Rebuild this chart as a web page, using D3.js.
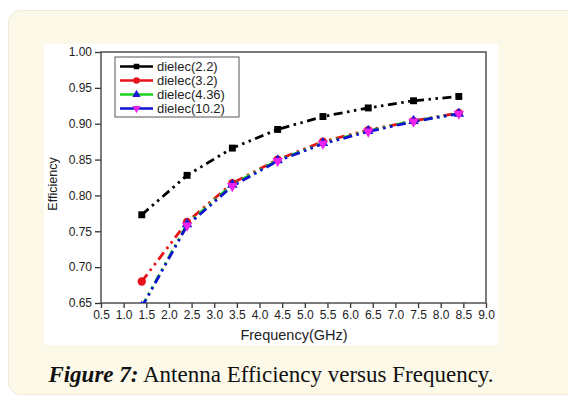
<!DOCTYPE html>
<html>
<head>
<meta charset="utf-8">
<script src="https://cdn.jsdelivr.net/npm/d3@7"></script>
<style>
  html, body { margin: 0; padding: 0; background: #fff; }
  svg { display: block; }
</style>
</head>
<body>
<svg id="chart" width="568" height="398"></svg>
<script>
// values
const freq = [1.4, 2.4, 3.4, 4.4, 5.4, 6.4, 7.4, 8.4];
const eff22 = [0.773, 0.828, 0.866, 0.892, 0.910, 0.922, 0.932, 0.938];
const eff32 = [0.680, 0.763, 0.817, 0.850, 0.875, 0.891, 0.904, 0.915];
const eff436 = [0.645, 0.760, 0.815, 0.849, 0.873, 0.890, 0.904, 0.914];
const eff102 = [0.644, 0.758, 0.813, 0.848, 0.872, 0.889, 0.903, 0.914];
const seriesNames = ['dielec(2.2)', 'dielec(3.2)', 'dielec(4.36)', 'dielec(10.2)'];
const xTicks = d3.range(0.5, 9.01, 0.5);
const yTicks = [0.65, 0.70, 0.75, 0.80, 0.85, 0.90, 0.95, 1.00];

const series = [
  { name: seriesNames[0], values: eff22, line: '#000', marker: '#000', shape: d3.symbolSquare },
  { name: seriesNames[1], values: eff32, line: '#e8121a', marker: '#e8121a', shape: d3.symbolCircle },
  { name: seriesNames[2], values: eff436, line: '#1bd11b', marker: '#1a1adf', shape: d3.symbolTriangle },
  { name: seriesNames[3], values: eff102, line: '#1010d0', marker: '#ee22ee', shape: 'down' }
];

const svg = d3.select('#chart');

// cream page panel
svg.append('rect')
  .attr('x', 8.5).attr('y', 10.5)
  .attr('width', 580).attr('height', 384)
  .attr('rx', 12)
  .attr('fill', '#fdf9e9')
  .attr('stroke', '#efeadb');

// white figure area
svg.append('rect')
  .attr('x', 44).attr('y', 44)
  .attr('width', 454).attr('height', 301)
  .attr('fill', '#fff');

const margin = { left: 101, top: 52, right: 486, bottom: 303 };

const x = d3.scaleLinear().domain([0.5, 9.0]).range([margin.left, margin.right]);
const y = d3.scaleLinear().domain([0.65, 1.00]).range([margin.bottom, margin.top]);

const font = '"Liberation Sans", Arial, sans-serif';

svg.append('clipPath').attr('id', 'plotclip')
  .append('rect')
  .attr('x', margin.left).attr('y', margin.top)
  .attr('width', margin.right - margin.left).attr('height', margin.bottom - margin.top);

// axes
const xAxis = svg.append('g')
  .attr('transform', 'translate(0,' + margin.bottom + ')')
  .call(d3.axisBottom(x).tickValues(xTicks).tickSize(5).tickPadding(2).tickFormat(d3.format('.1f')));
const yAxis = svg.append('g')
  .attr('transform', 'translate(' + margin.left + ',0)')
  .call(d3.axisLeft(y).tickValues(yTicks).tickSize(6).tickPadding(3).tickFormat(d3.format('.2f')));

[xAxis, yAxis].forEach(g => {
  g.select('.domain').remove();
  g.selectAll('line').attr('stroke', '#333').attr('stroke-width', 1.3);
  g.selectAll('text').attr('font-family', font).attr('font-size', 12).attr('fill', '#222');
});

// frame
svg.append('rect')
  .attr('x', margin.left).attr('y', margin.top)
  .attr('width', margin.right - margin.left).attr('height', margin.bottom - margin.top)
  .attr('fill', 'none').attr('stroke', '#444').attr('stroke-width', 1.4);

// axis titles
svg.append('text')
  .attr('x', 294).attr('y', 340)
  .attr('text-anchor', 'middle')
  .attr('font-family', font).attr('font-size', 14.5).attr('fill', '#222')
  .text('Frequency(GHz)');
svg.append('text')
  .attr('transform', 'translate(57,184) rotate(-90)')
  .attr('text-anchor', 'middle')
  .attr('font-family', font).attr('font-size', 12.5).attr('fill', '#222')
  .text('Efficiency');

function symbolPath(shape, size) {
  if (shape === 'down') {
    return d3.symbol().type(d3.symbolTriangle).size(size)();
  }
  return d3.symbol().type(shape).size(size)();
}

// lines + markers
const plot = svg.append('g').attr('clip-path', 'url(#plotclip)');
const line = d3.line().x((d, i) => x(freq[i])).y(d => y(d));

series.forEach(s => {
  plot.append('path')
    .datum(s.values)
    .attr('d', line)
    .attr('fill', 'none')
    .attr('stroke', s.line)
    .attr('stroke-width', 2.8)
    .attr('stroke-dasharray', '9,4.5,2.5,4.5,2.5,4.5');
});

series.forEach(s => {
  plot.selectAll(null)
    .data(s.values)
    .join('path')
    .attr('d', symbolPath(s.shape, s.shape === d3.symbolCircle ? 55 : 48))
    .attr('transform', (d, i) => 'translate(' + x(freq[i]) + ',' + y(d) + ')' + (s.shape === 'down' ? ' rotate(180)' : ''))
    .attr('fill', s.marker);
});

// legend
const lg = svg.append('g').attr('transform', 'translate(115,57)');
lg.append('rect')
  .attr('width', 124).attr('height', 60)
  .attr('fill', '#fff').attr('stroke', '#555').attr('stroke-width', 1);
series.forEach((s, i) => {
  const yy = 9.5 + i * 14;
  lg.append('line')
    .attr('x1', 5).attr('x2', 38).attr('y1', yy).attr('y2', yy)
    .attr('stroke', s.line).attr('stroke-width', 2.4);
  lg.append('path')
    .attr('d', symbolPath(s.shape, s.shape === d3.symbolCircle ? 34 : 30))
    .attr('transform', 'translate(21.5,' + yy + ')' + (s.shape === 'down' ? ' rotate(180)' : ''))
    .attr('fill', s.marker);
  lg.append('text')
    .attr('x', 42).attr('y', yy + 4.5)
    .attr('font-family', font).attr('font-size', 13).attr('fill', '#222')
    .text(s.name);
});

// caption
const cap = svg.append('text')
  .attr('x', 271).attr('y', 382)
  .attr('text-anchor', 'middle')
  .attr('font-family', '"Liberation Serif", "DejaVu Serif", serif')
  .attr('font-size', 23).attr('fill', '#111');
cap.append('tspan').attr('font-weight', 'bold').attr('font-style', 'italic').text('Figure 7:');
cap.append('tspan').text(' Antenna Efficiency versus Frequency.');
</script>
</body>
</html>
